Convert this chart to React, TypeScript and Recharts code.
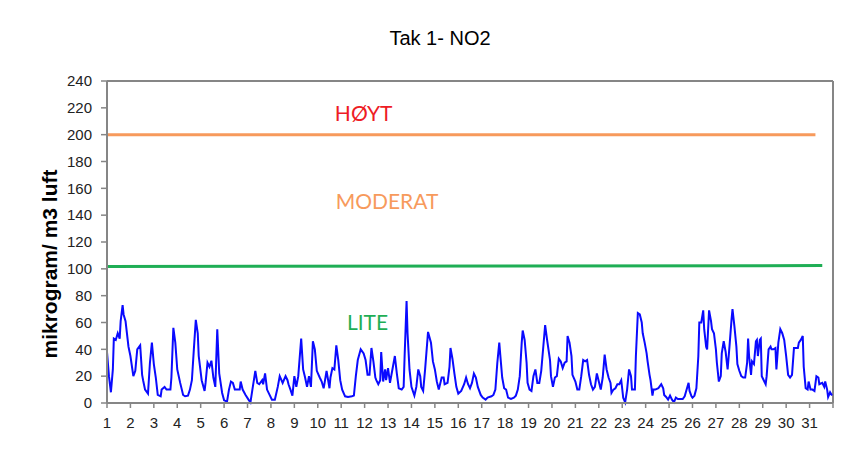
import {
  LineChart,
  Line,
  XAxis,
  YAxis,
  ReferenceLine,
  ReferenceDot,
} from 'recharts';

// hour of month (0 = day 1, 00:00) and NO2 reading
const hours = [
  0, 2, 4, 6, 7, 9, 11, 13, 14, 16, 17, 19, 22, 24, 27, 29, 31, 34, 36, 37, 39, 42, 44, 46, 48, 50, 52, 55, 56, 59,
  61, 65, 66, 68, 70, 72, 75, 78, 80, 83, 85, 87, 89, 91, 93, 94, 97, 100, 101, 103, 105, 107, 109, 111, 113, 115,
  118, 120, 123, 125, 127, 129, 131, 134, 136, 137, 139, 142, 145, 147, 149, 152, 154, 156, 159, 160, 162, 164, 167,
  169, 172, 175, 177, 180, 183, 185,
  186, 188, 190, 192, 194, 196, 199, 201, 203, 205, 207, 209, 211, 213, 215, 218, 220, 222, 223, 225, 228, 229, 231,
  233, 235, 237, 239, 241, 244, 247, 251, 253, 255, 257, 260, 263, 265, 267, 269, 271, 273, 275, 276, 278, 280, 281,
  283, 285, 286, 288, 290, 293, 295, 297, 299, 302, 304, 305, 307, 308, 310, 312, 315, 317, 319, 321, 322, 324, 326,
  329, 332, 334, 336, 338, 340, 343, 345, 346, 349, 351, 352, 354, 356, 358, 360, 363, 366, 368, 370,
  372, 374, 376, 378, 380, 383, 385, 388, 390, 394, 396, 398, 400, 402, 403, 405, 407, 409, 411, 414, 417, 419, 421,
  423, 425, 426, 428, 430, 431, 433, 435, 437, 439, 441, 443, 445, 447, 449, 451, 454, 455, 457, 459, 461, 463, 465,
  467, 469, 471, 472, 474, 476, 477, 480, 482, 484, 486, 488, 490, 492, 494, 496, 498, 500, 502, 504, 506, 508, 510,
  512, 514, 516, 517, 519, 521, 523, 525, 527, 529, 531, 533, 535, 537, 538, 541, 542, 544,
  546, 548, 549, 551, 553, 554, 556, 557, 559, 560, 562, 565, 566, 568, 570, 571, 573, 575, 577, 579, 581, 583, 585,
  588, 590, 592, 594, 596, 597, 599, 600, 602, 604, 606, 607, 609, 611, 612, 614, 615, 617, 619, 620, 622, 624, 625,
  627, 629, 630, 632, 634, 636, 638, 640, 641, 643, 645, 646, 648, 650, 652, 654, 656, 657, 658, 660, 661, 663, 665,
  666, 667, 669, 670, 671, 673, 675, 676, 678, 680, 681, 683, 685, 686, 688, 690, 692, 694, 696, 698, 700, 702, 704,
  706, 708, 709, 711, 713, 714, 716, 718, 719, 721, 723, 725, 727, 729, 730, 733, 735, 736, 738, 739, 741, 743,
];

const no2 = [
  38, 20, 8, 25, 48, 47, 52, 48, 61, 73, 66, 61, 42, 35, 20, 24, 40, 43, 21, 17, 10, 7, 30, 45, 29, 19, 6, 5, 10, 12,
  10, 10, 19, 56, 45, 25, 15, 6, 5, 5.5, 10, 17, 40, 62, 52, 35, 17, 9, 15, 30, 27, 31.5, 19, 12, 55, 22,
  7.5, 2, 1, 10, 16, 15, 10, 10, 10, 16, 10, 6, 2.5, 0.5, 10, 24, 15, 14, 17, 14, 22, 10, 5.5,
  2.5, 2.5, 12, 20, 15, 20, 17,
  14, 10, 5.5, 20, 12, 20, 48, 25, 19, 12, 20, 12, 46, 40, 24, 19, 16, 11, 15, 24, 11, 19, 26,
  25, 43, 32, 17, 10, 5, 4.5, 5, 5.5, 20, 32, 40, 37, 32, 21, 21, 41, 31, 19, 17, 14, 17, 38,
  16, 25, 17, 26, 15, 27, 35, 22, 11, 10, 12, 35, 76, 52, 25, 12, 5.5, 12, 25, 20, 12, 9, 25,
  53, 45, 31, 25, 16, 10, 19, 19, 14, 15, 27, 41, 33, 22, 12, 7, 9, 14, 19, 14,
  11, 15, 22, 19, 12, 6, 4, 2.5, 4, 5, 6, 10, 30, 45, 36, 19, 11, 10, 4, 3, 4, 5.5, 10,
  20, 45, 54, 47, 30, 15, 10, 9, 20, 25, 15, 15, 24, 41, 58, 47, 32, 20, 12, 19, 20, 33, 31,
  26, 30, 31, 50, 45, 35, 21, 16, 10, 10, 20, 32, 31, 32, 21, 14, 10, 12, 22, 16, 10, 19, 36,
  25, 19, 15, 7.5, 10, 11, 14, 14, 17, 4, 0.5, 10, 25, 20, 10, 10, 35, 67,
  66, 60, 52, 45, 37, 31, 21, 17, 5.5, 10, 10, 11, 12, 14, 11, 6, 4.5, 2.5, 5.5, 2.5, 0.5, 4, 3,
  3, 3, 5, 10, 15, 9, 5, 4, 5.5, 11, 35, 60, 60, 69, 55, 42, 40, 69, 61, 55, 52, 40, 30,
  16, 20, 37, 46, 38, 25, 43, 62, 70, 57, 42, 29, 24, 20, 19, 19, 30, 48, 35, 21, 31, 29, 46,
  47, 35, 47, 48, 20, 17, 14, 20, 40, 42, 40, 40, 41, 25, 45, 55, 52, 47, 35, 21, 19, 21, 41,
  41, 41, 45, 47, 50, 27, 11, 10, 16, 10, 10, 9, 20, 19, 14, 15, 12, 16, 10, 4.5, 8, 5.5,
];

const days = [1, 2, 3, 4, 5, 6, 7, 8, 9, 10, 11, 12, 13, 14, 15, 16, 17, 18, 19, 20, 21, 22, 23, 24, 25, 26, 27, 28, 29, 30, 31];
const yTicks = [0, 20, 40, 60, 80, 100, 120, 140, 160, 180, 200, 220, 240];

const data = hours.map((h, i) => ({ h, v: no2[i] }));
const xTicks = days.map((d) => (d - 1) * 24).concat(744);

const axisGray = '#868686';
const tickFont = { fontSize: 15, fill: '#222', fontFamily: 'Liberation Sans, Arial, sans-serif' };
const zoneFont = 'Lato, "Open Sans", sans-serif';

export default function App() {
  return (
    <div
      style={{
        position: 'relative',
        width: 851,
        height: 461,
        margin: -8,
        overflow: 'hidden',
        background: '#fff',
        fontFamily: 'Liberation Sans, Arial, sans-serif',
      }}
    >
      <div
        style={{
          position: 'absolute',
          left: 0,
          width: 880,
          top: 27,
          textAlign: 'center',
          fontSize: 20,
          color: '#000',
        }}
      >
        Tak 1- NO2
      </div>
      <div
        style={{
          position: 'absolute',
          left: 50,
          top: 264,
          transform: 'translate(-50%, -50%) rotate(-90deg)',
          whiteSpace: 'nowrap',
          fontSize: 21,
          fontWeight: 'bold',
          color: '#000',
        }}
      >
        mikrogram/ m3 luft
      </div>
      <div style={{ position: 'absolute', left: 0, top: 0 }}>
        <LineChart width={851} height={461} data={data} margin={{ top: 81, right: 18, bottom: 28, left: 0 }}>
          <XAxis
            dataKey="h"
            type="number"
            domain={[0, 744]}
            ticks={xTicks}
            interval={0}
            allowDataOverflow
            tickFormatter={(v: number) => (v < 744 ? String(v / 24 + 1) : '')}
            tick={tickFont}
            tickSize={5}
            tickMargin={9}
            height={30}
            axisLine={{ stroke: axisGray, strokeWidth: 2 }}
            tickLine={{ stroke: axisGray, strokeWidth: 1.5 }}
          />
          <YAxis
            type="number"
            domain={[0, 240]}
            ticks={yTicks}
            interval={0}
            width={107}
            tick={tickFont}
            tickSize={6}
            tickMargin={9}
            axisLine={{ stroke: axisGray, strokeWidth: 2 }}
            tickLine={{ stroke: axisGray, strokeWidth: 1.5 }}
          />
          <ReferenceLine y={240} stroke={axisGray} strokeWidth={2} />
          <ReferenceLine x={744} stroke={axisGray} strokeWidth={2} />
          <ReferenceLine
            segment={[{ x: 0, y: 200 }, { x: 726, y: 200 }]}
            stroke="#f79a5c"
            strokeWidth={3}
          />
          <ReferenceLine
            segment={[{ x: 0, y: 101.7 }, { x: 733, y: 102.4 }]}
            stroke="#1fae55"
            strokeWidth={3}
          />
          <ReferenceDot
            x={263}
            y={216}
            r={0}
            fillOpacity={0}
            stroke="none"
            label={{ value: 'HØYT', position: 'center', fill: '#ee1c25', fontSize: 21, fontFamily: zoneFont }}
          />
          <ReferenceDot
            x={287}
            y={150}
            r={0}
            fillOpacity={0}
            stroke="none"
            label={{ value: 'MODERAT', position: 'center', fill: '#f79a5c', fontSize: 21, fontFamily: zoneFont }}
          />
          <ReferenceDot
            x={267}
            y={60}
            r={0}
            fillOpacity={0}
            stroke="none"
            label={{ value: 'LITE', position: 'center', fill: '#1fae55', fontSize: 21, fontFamily: zoneFont }}
          />
          <Line
            type="linear"
            dataKey="v"
            stroke="#0a0aff"
            strokeWidth={2}
            dot={false}
            isAnimationActive={false}
          />
        </LineChart>
      </div>
      {/* chart-area frame; only its top and left edges fall inside the crop */}
      <svg
        width={851}
        height={461}
        style={{ position: 'absolute', left: 0, top: 0, pointerEvents: 'none' }}
      >
        <polyline points="7,461 7,7 851,7" fill="none" stroke="#000" strokeWidth={2} />
      </svg>
    </div>
  );
}
